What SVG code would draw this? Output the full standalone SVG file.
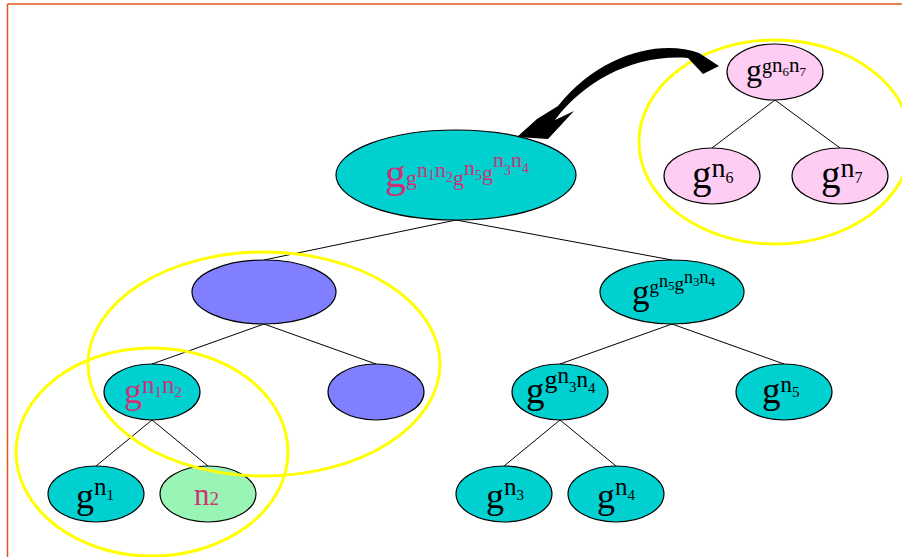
<svg xmlns="http://www.w3.org/2000/svg" width="902" height="557" viewBox="0 0 902 557">
  <style>
    .node { stroke: #000; stroke-width: 1.2; }
    .cyan { fill: #00D0D0; }
    .blue { fill: #7F7FFF; }
    .pink { fill: #FFCCF3; }
    .green { fill: #99F5B5; }
    .edge { stroke: #000; stroke-width: 1; fill: none; }
    .ring { fill: none; stroke: #FFFF00; stroke-width: 3; }
    text { font-family: "Liberation Serif", "Times New Roman", serif; fill: #000; }
    text.mag { fill: #CC3377; }
  </style>

  <!-- page frame -->
  <g id="frame">
    <line x1="7.5" y1="4" x2="902" y2="4" stroke="#E0561A" stroke-width="1.5"/>
    <line x1="7.5" y1="4" x2="7.5" y2="557" stroke="#E0561A" stroke-width="1.5"/>
  </g>

  <!-- tree edges -->
  <g id="connectors">
    <line class="edge" x1="456" y1="220" x2="264" y2="260"/>
    <line class="edge" x1="456" y1="220" x2="672" y2="260"/>
    <line class="edge" x1="264" y1="324" x2="152" y2="364"/>
    <line class="edge" x1="264" y1="324" x2="376" y2="364"/>
    <line class="edge" x1="152" y1="420" x2="96" y2="466"/>
    <line class="edge" x1="152" y1="420" x2="208" y2="466"/>
    <line class="edge" x1="672" y1="324" x2="560" y2="364"/>
    <line class="edge" x1="672" y1="324" x2="784" y2="364"/>
    <line class="edge" x1="560" y1="420" x2="504" y2="466"/>
    <line class="edge" x1="560" y1="420" x2="616" y2="466"/>
    <line class="edge" x1="775" y1="100" x2="712" y2="148"/>
    <line class="edge" x1="775" y1="100" x2="840" y2="148"/>
  </g>

  <!-- root -->
  <g id="root">
    <ellipse class="node cyan" cx="456" cy="175" rx="120" ry="45"/>
    <text class="mag" x="385" y="187"><tspan font-size="42">g</tspan><tspan y="185" font-size="22">g</tspan><tspan y="177" font-size="22">n</tspan><tspan y="180" font-size="14">1</tspan><tspan y="177" font-size="22">n</tspan><tspan y="182" font-size="14">2</tspan><tspan y="185" font-size="22">g</tspan><tspan y="175" font-size="22">n</tspan><tspan y="180" font-size="14">5</tspan><tspan y="180" font-size="22">g</tspan><tspan y="167" font-size="22">n</tspan><tspan y="175" font-size="14">3</tspan><tspan y="167" font-size="22">n</tspan><tspan y="173" font-size="14">4</tspan></text>
  </g>

  <!-- left subtree -->
  <g id="blue-a">
    <ellipse class="node blue" cx="264" cy="292" rx="72" ry="32"/>
  </g>
  <g id="blue-b">
    <ellipse class="node blue" cx="376" cy="392" rx="48" ry="28"/>
  </g>
  <g id="g-n1n2">
    <ellipse class="node cyan" cx="152" cy="392" rx="48" ry="28"/>
    <text class="mag" x="124" y="403"><tspan font-size="36">g</tspan><tspan y="393" font-size="25">n</tspan><tspan y="397" font-size="15">1</tspan><tspan y="393" font-size="25">n</tspan><tspan y="397" font-size="15">2</tspan></text>
  </g>
  <g id="g-n1">
    <ellipse class="node cyan" cx="96" cy="494" rx="48" ry="28"/>
    <text x="76" y="508"><tspan font-size="36">g</tspan><tspan y="495" font-size="25">n</tspan><tspan y="500" font-size="15">1</tspan></text>
  </g>
  <g id="n2">
    <ellipse class="node green" cx="208" cy="494" rx="48" ry="28"/>
    <text class="mag" x="194" y="505"><tspan font-size="31">n</tspan><tspan font-size="19">2</tspan></text>
  </g>

  <!-- right subtree -->
  <g id="g-n5-g-n3n4">
    <ellipse class="node cyan" cx="672" cy="292" rx="72" ry="32"/>
    <text x="632" y="304"><tspan font-size="35">g</tspan><tspan y="293" font-size="19">g</tspan><tspan y="287" font-size="18">n</tspan><tspan y="290" font-size="13">5</tspan><tspan y="290" font-size="19">g</tspan><tspan y="283" font-size="18">n</tspan><tspan y="286" font-size="13">3</tspan><tspan y="283" font-size="18">n</tspan><tspan y="286" font-size="13">4</tspan></text>
  </g>
  <g id="g-g-n3n4">
    <ellipse class="node cyan" cx="560" cy="392" rx="48" ry="28"/>
    <text x="526" y="403"><tspan font-size="37">g</tspan><tspan y="388" font-size="26">g</tspan><tspan y="383" font-size="23">n</tspan><tspan y="392" font-size="15">3</tspan><tspan y="387" font-size="23">n</tspan><tspan y="393" font-size="15">4</tspan></text>
  </g>
  <g id="g-n5">
    <ellipse class="node cyan" cx="784" cy="392" rx="48" ry="28"/>
    <text x="762" y="403"><tspan font-size="37">g</tspan><tspan y="392" font-size="23">n</tspan><tspan y="397" font-size="15">5</tspan></text>
  </g>
  <g id="g-n3">
    <ellipse class="node cyan" cx="504" cy="494" rx="48" ry="28"/>
    <text x="486" y="508"><tspan font-size="36">g</tspan><tspan y="495" font-size="25">n</tspan><tspan y="500" font-size="15">3</tspan></text>
  </g>
  <g id="g-n4">
    <ellipse class="node cyan" cx="616" cy="494" rx="48" ry="28"/>
    <text x="597" y="508"><tspan font-size="36">g</tspan><tspan y="495" font-size="25">n</tspan><tspan y="500" font-size="15">4</tspan></text>
  </g>

  <!-- separate subtree, upper right -->
  <g id="g-g-n6n7">
    <ellipse class="node pink" cx="775" cy="72" rx="48" ry="28"/>
    <text x="746" y="81"><tspan font-size="32">g</tspan><tspan y="73" font-size="20">g</tspan><tspan y="72" font-size="21">n</tspan><tspan y="76" font-size="13">6</tspan><tspan y="72" font-size="21">n</tspan><tspan y="76" font-size="13">7</tspan></text>
  </g>
  <g id="g-n6">
    <ellipse class="node pink" cx="712" cy="176" rx="48" ry="28"/>
    <text x="692" y="188"><tspan font-size="39">g</tspan><tspan y="177" font-size="28">n</tspan><tspan y="183" font-size="16">6</tspan></text>
  </g>
  <g id="g-n7">
    <ellipse class="node pink" cx="840" cy="176" rx="48" ry="28"/>
    <text x="821" y="188"><tspan font-size="39">g</tspan><tspan y="177" font-size="28">n</tspan><tspan y="183" font-size="16">7</tspan></text>
  </g>

  <!-- highlighted groups -->
  <g id="rings">
    <ellipse class="ring" cx="264" cy="364" rx="176" ry="112"/>
    <ellipse class="ring" cx="152" cy="452" rx="136" ry="104"/>
    <ellipse class="ring" cx="775" cy="142" rx="136" ry="102"/>
  </g>

  <!-- curved block arrow -->
  <g id="arrow">
    <path d="M699,53 C660,39 600,54 558,106 L537,119 L517,137 L548,139 L574,111 L555,120 C585,80 635,54 688,58 L703,74 L719,66 Z" fill="#000"/>
  </g>
</svg>
